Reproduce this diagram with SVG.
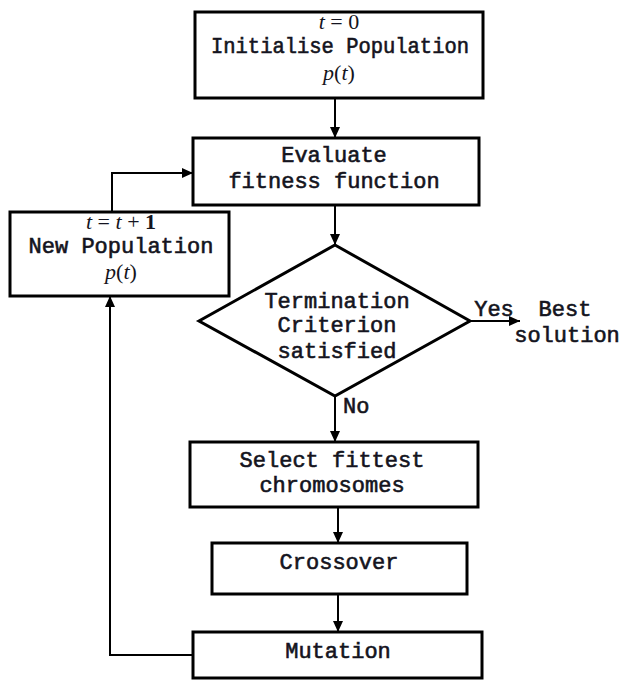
<svg xmlns="http://www.w3.org/2000/svg" width="623" height="680" viewBox="0 0 623 680">
<defs>
<marker id="ah" markerWidth="12" markerHeight="12" refX="11" refY="6" orient="auto" markerUnits="userSpaceOnUse">
<path d="M0,1 L11,6 L0,11 Z" fill="#000"/>
</marker>
<style>
.box{fill:#fff;stroke:#000;stroke-width:3}
.lbl{font-family:"Liberation Mono","Courier New",monospace;font-size:22px;font-weight:normal;fill:#141420;text-anchor:middle;stroke:#141420;stroke-width:0.6}
.math{font-family:"Liberation Serif","Times New Roman",serif;font-size:22px;fill:#141420;text-anchor:middle}
.it{font-style:italic}
.conn{fill:none;stroke:#000;stroke-width:2}
</style>
</defs>
<rect width="623" height="680" fill="#fff"/>
<g id="connectors">
<line class="conn" x1="335" y1="98" x2="335" y2="138" marker-end="url(#ah)"/>
<line class="conn" x1="335" y1="205" x2="335" y2="245" marker-end="url(#ah)"/>
<line class="conn" x1="335" y1="396" x2="335" y2="442" marker-end="url(#ah)"/>
<line class="conn" x1="470" y1="321" x2="520" y2="321" marker-end="url(#ah)"/>
<line class="conn" x1="338" y1="507" x2="338" y2="543" marker-end="url(#ah)"/>
<line class="conn" x1="338" y1="594" x2="338" y2="632" marker-end="url(#ah)"/>
<polyline class="conn" points="193,655 110,655 110,296" marker-end="url(#ah)"/>
<polyline class="conn" points="112,212 112,173 193,173" marker-end="url(#ah)"/>
</g>
<g id="init">
<rect class="box" x="195" y="12" width="288" height="86"/>
<text class="math" x="339" y="29"><tspan class="it">t</tspan> = 0</text>
<text class="lbl" x="340" y="53" font-size="21" textLength="258" lengthAdjust="spacingAndGlyphs">Initialise Population</text>
<text class="math" x="339" y="80"><tspan class="it">p</tspan>(<tspan class="it">t</tspan>)</text>
</g>
<g id="evaluate">
<rect class="box" x="193" y="138" width="286" height="67"/>
<text class="lbl" x="334" y="162">Evaluate</text>
<text class="lbl" x="334" y="188">fitness function</text>
</g>
<g id="newpop">
<rect class="box" x="10" y="212" width="219" height="84"/>
<text class="math" x="121" y="229"><tspan class="it">t</tspan> = <tspan class="it">t</tspan> + <tspan font-weight="bold">1</tspan></text>
<text class="lbl" x="121" y="253">New Population</text>
<text class="math" x="121" y="279"><tspan class="it">p</tspan>(<tspan class="it">t</tspan>)</text>
</g>
<g id="decision">
<polygon class="box" points="335,245 470,321 335,396 199,321" stroke-width="2.5"/>
<text class="lbl" x="337" y="308">Termination</text>
<text class="lbl" x="337" y="332">Criterion</text>
<text class="lbl" x="337" y="358">satisfied</text>
</g>
<g id="labels">
<text class="lbl" x="494" y="316">Yes</text>
<text class="lbl" x="343" y="413" style="text-anchor:start">No</text>
</g>
<g id="best">
<text class="lbl" x="565" y="316">Best</text>
<text class="lbl" x="567" y="342">solution</text>
</g>
<g id="select">
<rect class="box" x="190" y="442" width="288" height="65"/>
<text class="lbl" x="332" y="467">Select fittest</text>
<text class="lbl" x="332" y="492">chromosomes</text>
</g>
<g id="crossover">
<rect class="box" x="212" y="543" width="255" height="51"/>
<text class="lbl" x="339" y="569">Crossover</text>
</g>
<g id="mutation">
<rect class="box" x="193" y="632" width="289" height="46"/>
<text class="lbl" x="338" y="658">Mutation</text>
</g>
</svg>
